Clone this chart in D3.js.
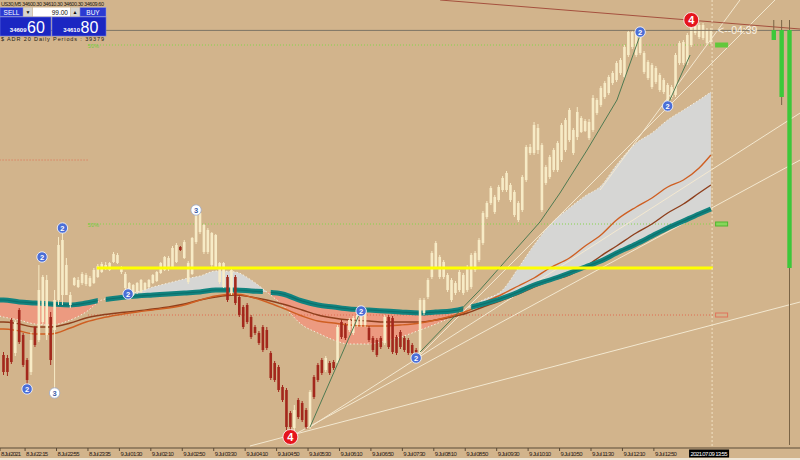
<!DOCTYPE html>
<html>
<head>
<meta charset="utf-8">
<script src="https://cdn.jsdelivr.net/npm/d3@7"></script>
<style>
body { margin: 0; background: #d2b48c; }
svg { display: block; font-family: "Liberation Sans", Arial, sans-serif; }
</style>
</head>
<body>
<svg id="chart"></svg>
<script>
// US30, M5 candles (index 0 = 8 Jul 21:45), prices
const opens = [34285,34282,34320,34287,34330,34305,34280,34268,34313,34300,
34318,34305,34323,34310,34340,34345,34345,34335,34355,34353,
34357,34356,34354,34357,34363,34368,34372,34370,34378,34377,
34368,34352,34348,34345,34348,34348,34350,34353,34357,34359,
34367,34370,34371,34373,34378,34393,34382,34358,34366,34398,
34408,34388,34388,34375,34373,34358,34353,34363,34347,34363,
34343,34333,34335,34323,34313,34307,34313,34310,34287,34277,
34273,34253,34250,34227,34212,34240,34237,34230,34213,34263,
34275,34280,34270,34277,34278,34277,34318,34315,34310,34307,
34315,34315,34315,34312,34302,34300,34302,34297,34323,34322,
34303,34308,34302,34300,34295,34290,34287,34327,34343,34363,
34373,34363,34363,34350,34340,34347,34350,34347,34350,34353,
34370,34380,34397,34423,34437,34428,34440,34450,34450,34440,
34425,34420,34430,34460,34487,34487,34490,34430,34457,34463,
34470,34470,34480,34490,34500,34487,34503,34508,34509,34502,
34510,34527,34535,34543,34547,34557,34560,34567,34563,34585,
34593,34585,34587,34568,34562,34553,34558,34550,34548,34540,
34543,34545,34577,34577,34577,34595,34607,34603,34602,34597,
34598];
const highs = [34288,34285,34322,34320,34332,34307,34282,34308,34314,34375,
34365,34365,34328,34350,34403,34408,34382,34348,34363,34363,
34368,34367,34364,34372,34376,34378,34378,34378,34388,34387,
34374,34368,34358,34356,34358,34361,34358,34361,34366,34369,
34378,34384,34384,34394,34397,34394,34400,34379,34403,34428,
34428,34416,34412,34408,34406,34378,34378,34365,34372,34365,
34345,34335,34337,34325,34315,34309,34315,34313,34289,34279,
34275,34255,34252,34229,34235,34242,34239,34232,34250,34265,
34277,34282,34284,34279,34280,34315,34320,34317,34322,34324,
34328,34334,34332,34314,34304,34302,34304,34325,34325,34324,
34305,34310,34304,34302,34297,34292,34342,34342,34362,34389,
34399,34385,34380,34367,34362,34359,34370,34367,34375,34387,
34389,34402,34429,34439,34454,34445,34455,34464,34469,34457,
34450,34439,34465,34495,34496,34518,34516,34497,34475,34485,
34492,34499,34517,34522,34532,34512,34533,34524,34521,34521,
34545,34542,34554,34559,34565,34569,34579,34582,34595,34610,
34610,34609,34612,34589,34580,34577,34574,34567,34562,34557,
34555,34587,34599,34600,34607,34615,34617,34617,34617,34612,
34612];
const lows = [34265,34264,34276,34284,34296,34273,34255,34265,34293,34298,
34315,34300,34275,34252,34335,34335,34345,34332,34354,34352,
34355,34354,34353,34356,34362,34367,34370,34369,34377,34376,
34366,34350,34346,34344,34346,34347,34349,34352,34356,34358,
34366,34369,34369,34372,34377,34389,34381,34356,34365,34396,
34406,34386,34386,34373,34372,34356,34352,34338,34345,34335,
34323,34311,34316,34301,34305,34295,34288,34290,34260,34258,
34248,34238,34210,34205,34208,34221,34218,34211,34211,34241,
34258,34265,34268,34265,34270,34275,34301,34300,34308,34305,
34313,34313,34313,34298,34288,34283,34291,34295,34291,34286,
34285,34291,34288,34285,34285,34283,34285,34325,34341,34361,
34371,34361,34361,34348,34338,34345,34348,34345,34348,34351,
34368,34378,34395,34421,34435,34426,34438,34448,34448,34438,
34423,34418,34428,34458,34485,34485,34486,34428,34455,34461,
34468,34468,34478,34488,34498,34485,34500,34507,34508,34500,
34508,34525,34533,34541,34545,34555,34558,34565,34561,34583,
34591,34583,34585,34566,34560,34551,34556,34548,34546,34538,
34541,34543,34575,34575,34575,34593,34605,34601,34600,34595,
34596];
const closes = [34268,34268,34278,34318,34298,34275,34260,34300,34295,34350,
34363,34360,34280,34340,34395,34400,34375,34345,34362,34360,
34366,34365,34362,34370,34374,34376,34375,34377,34386,34385,
34372,34366,34357,34355,34357,34360,34357,34360,34365,34368,
34377,34383,34382,34392,34395,34390,34398,34377,34402,34425,
34427,34415,34410,34407,34405,34377,34377,34340,34370,34337,
34325,34313,34318,34303,34307,34297,34290,34292,34262,34260,
34250,34240,34213,34213,34230,34223,34220,34213,34248,34243,
34260,34267,34282,34267,34272,34313,34303,34302,34320,34322,
34325,34333,34330,34300,34290,34285,34293,34323,34293,34288,
34287,34293,34290,34287,34287,34285,34340,34340,34360,34387,
34397,34383,34378,34365,34360,34357,34368,34365,34373,34385,
34387,34400,34427,34437,34452,34443,34453,34462,34467,34455,
34448,34437,34463,34493,34493,34515,34512,34495,34473,34483,
34490,34497,34515,34520,34530,34510,34528,34522,34519,34518,
34542,34540,34552,34557,34563,34567,34577,34580,34593,34608,
34608,34607,34610,34587,34578,34575,34572,34565,34560,34555,
34553,34585,34597,34598,34605,34613,34615,34615,34615,34610,
34610];

// indicator lines, sampled at these candle indices
const gridIdx = [-1,0,4,8,12,17,21,25,29,34,38,42,46,50,54,59,63,67,71,76,80,84,88,93,97,101,106,110,114,118,122,127,131,135,139,144,148,152,156,161,165,169,173,177,180];
const tealMA = [34340,34340,34338,34337,34336,34335,34337,34340,34342,34344,34345,34346,34347,34348,34350,34350,34349,34348,34346,34339,34335,34333,34331,34330,34329,34328,34327,34328,34329,34332,34336,34342,34348,34355,34360,34367,34373,34379,34387,34396,34404,34412,34419,34426,34431];
const cloudEdge = [34324,34323,34320,34316,34315,34320,34328,34340,34343,34348,34353,34357,34361,34364,34369,34368,34360,34348,34335,34315,34307,34300,34296,34296,34299,34303,34310,34316,34323,34332,34340,34350,34372,34395,34415,34432,34444,34454,34475,34497,34507,34520,34530,34540,34548];
const fastMA = [34311,34311,34309,34306,34306,34312,34318,34322,34325,34328,34330,34332,34335,34340,34344,34346,34343,34338,34332,34324,34319,34317,34315,34314,34314,34315,34317,34320,34324,34329,34337,34346,34354,34362,34372,34382,34394,34405,34420,34433,34442,34453,34460,34472,34485];
const slowMA = [34318,34318,34316,34313,34313,34317,34322,34325,34327,34329,34331,34333,34336,34340,34343,34345,34343,34340,34336,34330,34325,34322,34320,34319,34318,34318,34318,34320,34323,34327,34333,34340,34346,34353,34359,34365,34373,34384,34394,34407,34416,34427,34436,34447,34455];
const tealGapIdx = [25, 67, 118];

// trend lines: [idx1, price1, idx2, price2]
const creamLines = [
  [62.7, 34194, 202.7, 34338],
  [78.0, 34213, 202.7, 34527],
  [72.9, 34203, 202.7, 34480],
  [105.2, 34282, 196.3, 34640],
  [151.8, 34450, 187.4, 34640]
];
const redTrend = [111.1, 34640, 202.7, 34611];
const greenWaves = [
  [[78, 34213], [91, 34330]],
  [[106, 34288], [121.2, 34350], [136.5, 34418], [141.6, 34447], [148.5, 34490], [156.1, 34540], [162, 34605]],
  [[169.1, 34536], [174.7, 34585]]
];

// horizontal levels
const yellowLevel = 34372, yellowFrom = 24;
const greenLevels = [34595, 34416];
const redLevels = [34480, 34325];
const redLevelFrom = [-1, 21.5], redLevelTo = [21.5, 180.5];
const levelFrom = 21.5;
const bidPrice = 34609.6;

// numbered swing markers
const markerIdx = [6, 9.8, 15, 31.7, 91, 105, 162, 169, 13, 49, 73, 175];
const markerPrice = [34251, 34383, 34412, 34346, 34329, 34282, 34608, 34534, 34247, 34430, 34203, 34620];
const markerLabel = ['2','2','2','2','2','2','2','2','3','3','4','4'];

// green histogram at right edge
const barIdx = [196, 198, 200];
const barTop = 34610;
const barBottom = [34600, 34543, 34372];
const barWickBottom = [34600, 34535, 34195];

// time axis
const tickIdx = [-1,6,14,22,30,38,46,54,62,70,78,86,94,102,110,118,126,134,142,150,158,166];
const tickLabels = ['8 Jul 2021','8 Jul 22:15','8 Jul 22:55','8 Jul 23:35','9 Jul 01:30','9 Jul 02:10','9 Jul 02:50','9 Jul 03:30','9 Jul 04:10','9 Jul 04:50','9 Jul 05:30','9 Jul 06:10','9 Jul 06:50','9 Jul 07:30','9 Jul 08:10','9 Jul 08:50','9 Jul 09:30','9 Jul 10:10','9 Jul 10:50','9 Jul 11:30','9 Jul 12:10','9 Jul 12:50'];
const currentTime = '2021.07.09 13:55';
const currentIdx = 180.3;

const W = 800, H = 460, AXIS_Y = 448;
const BG = '#d2b48c', CREAM = '#f7ebc6', BEAR = '#a3281c';

const svg = d3.select('#chart').attr('width', W).attr('height', H);
const x = d3.scaleLinear().domain([0, 180]).range([3.5, 710.9]);
const y = d3.scaleLinear().domain([34200, 34640]).range([440, 0]);

svg.append('rect').attr('width', W).attr('height', H).attr('fill', BG);

const defs = svg.append('defs');
defs.append('clipPath').attr('id', 'plot').append('rect')
  .attr('x', 0).attr('y', 0).attr('width', W).attr('height', AXIS_Y);

// teal line is broken where the cloud flips colour
const tealClip = defs.append('clipPath').attr('id', 'tealclip');
let cx = -10;
tealGapIdx.concat([400]).forEach(g => {
  const gx = g < 400 ? x(g) - 4 : W + 10;
  tealClip.append('rect').attr('x', cx).attr('y', 0).attr('width', gx - cx).attr('height', AXIS_Y);
  cx = x(g) + 4;
});

const plot = svg.append('g').attr('clip-path', 'url(#plot)');

// cloud between teal MA and its edge
const segs = [];
let seg = [0];
for (let k = 1; k < gridIdx.length; k++) {
  seg.push(k);
  if (Math.abs(cloudEdge[k] - tealMA[k]) < 0.5 && k < gridIdx.length - 1) { segs.push(seg); seg = [k]; }
}
segs.push(seg);

const area = d3.area()
  .x(k => x(gridIdx[k]))
  .y0(k => y(tealMA[k]))
  .y1(k => y(cloudEdge[k]))
  .curve(d3.curveMonotoneX);

plot.selectAll('path.cloud')
  .data(segs)
  .join('path')
  .attr('class', 'cloud')
  .attr('d', area)
  .attr('fill', s => {
    const m = s[Math.floor(s.length / 2)];
    return cloudEdge[m] > tealMA[m] ? '#d6d6d4' : '#ec9a80';
  });

const gridLine = vals => d3.line()
  .x(k => x(gridIdx[k]))
  .y(k => y(vals[k]))
  .curve(d3.curveMonotoneX)(d3.range(gridIdx.length));

// horizontal dotted levels
greenLevels.forEach(p => {
  plot.append('line').attr('x1', x(levelFrom)).attr('x2', x(180.5))
    .attr('y1', y(p)).attr('y2', y(p))
    .attr('stroke', '#84d44c').attr('stroke-width', 1).attr('stroke-dasharray', '1,2');
  plot.append('text').attr('x', x(levelFrom)).attr('y', y(p) + 2.5)
    .attr('font-size', 5).attr('fill', '#6ccb3c').attr('textLength', 11).text('50%');
});
redLevels.forEach((p, i) => {
  plot.append('line').attr('x1', x(redLevelFrom[i])).attr('x2', x(redLevelTo[i]))
    .attr('y1', y(p)).attr('y2', y(p))
    .attr('stroke', '#e06a50').attr('stroke-width', 1).attr('stroke-dasharray', '1,2');
});

// cloud edge dotted
plot.append('path').attr('d', gridLine(cloudEdge))
  .attr('fill', 'none').attr('stroke', '#f6eedc').attr('stroke-width', 1).attr('stroke-dasharray', '1.5,2');

// fan lines
plot.selectAll('line.fan')
  .data(creamLines)
  .join('line')
  .attr('class', 'fan')
  .attr('x1', d => x(d[0])).attr('y1', d => y(d[1]))
  .attr('x2', d => x(d[2])).attr('y2', d => y(d[3]))
  .attr('stroke', '#f3e8d0').attr('stroke-width', 1);

plot.append('line')
  .attr('x1', x(redTrend[0])).attr('y1', y(redTrend[1]))
  .attr('x2', x(redTrend[2])).attr('y2', y(redTrend[3]))
  .attr('stroke', '#a5503e').attr('stroke-width', 1);

// moving averages
plot.append('path').attr('d', gridLine(slowMA))
  .attr('fill', 'none').attr('stroke', '#8e3f1c').attr('stroke-width', 1.4);
plot.append('path').attr('d', gridLine(fastMA))
  .attr('fill', 'none').attr('stroke', '#cf5f22').attr('stroke-width', 1.4);
const tealG = plot.append('g').attr('clip-path', 'url(#tealclip)');
tealG.append('path').attr('d', gridLine(tealMA))
  .attr('fill', 'none').attr('stroke', '#12837f').attr('stroke-width', 5);
tealG.append('path').attr('d', gridLine(tealMA))
  .attr('fill', 'none').attr('stroke', '#0c6f6b').attr('stroke-width', 1.2);

// candles
const candles = d3.range(opens.length);
const col = i => closes[i] >= opens[i] ? CREAM : BEAR;
plot.selectAll('line.wick')
  .data(candles)
  .join('line')
  .attr('class', 'wick')
  .attr('x1', i => x(i)).attr('x2', i => x(i))
  .attr('y1', i => y(highs[i])).attr('y2', i => y(lows[i]))
  .attr('stroke', col).attr('stroke-width', 1);
plot.selectAll('rect.body')
  .data(candles)
  .join('rect')
  .attr('class', 'body')
  .attr('x', i => x(i) - 1.3)
  .attr('width', 2.6)
  .attr('y', i => y(Math.max(opens[i], closes[i])))
  .attr('height', i => Math.max(1, Math.abs(y(opens[i]) - y(closes[i]))))
  .attr('fill', col);

// zigzag wave lines
const waveLine = d3.line().x(d => x(d[0])).y(d => y(d[1]));
plot.selectAll('path.wave')
  .data(greenWaves)
  .join('path')
  .attr('class', 'wave')
  .attr('d', waveLine)
  .attr('fill', 'none').attr('stroke', '#4f7a52').attr('stroke-width', 1);

// yellow level
plot.append('line').attr('x1', x(yellowFrom) - 1).attr('x2', x(180.5))
  .attr('y1', y(yellowLevel)).attr('y2', y(yellowLevel))
  .attr('stroke', '#ffff00').attr('stroke-width', 3);

// bid line and current bar line
plot.append('line').attr('x1', 0).attr('x2', W)
  .attr('y1', y(bidPrice)).attr('y2', y(bidPrice))
  .attr('stroke', '#7d7565').attr('stroke-width', 1);
plot.append('line').attr('x1', x(currentIdx)).attr('x2', x(currentIdx))
  .attr('y1', 0).attr('y2', AXIS_Y)
  .attr('stroke', '#f1e3c4').attr('stroke-width', 1).attr('stroke-dasharray', '2,2');

// level tags at right
[[greenLevels[0], '#62c83c', '#62c83c'], [greenLevels[1], '#86d65a', '#4fb52e'], [redLevels[1], 'none', '#e0735a']]
  .forEach(t => {
    plot.append('rect').attr('x', x(181.2)).attr('y', y(t[0]) - 2)
      .attr('width', 12).attr('height', 4)
      .attr('fill', t[1]).attr('stroke', t[2]).attr('stroke-width', 1);
  });

// green bars
barIdx.forEach((b, i) => {
  plot.append('line').attr('x1', x(b)).attr('x2', x(b))
    .attr('y1', y(barTop) - 10).attr('y2', y(barWickBottom[i]))
    .attr('stroke', '#7a6446').attr('stroke-width', 1);
  plot.append('rect').attr('x', x(b) - 2.2).attr('width', 4.4)
    .attr('y', y(barTop)).attr('height', y(barBottom[i]) - y(barTop))
    .attr('fill', '#3cc83a');
});

// countdown
plot.append('text').attr('x', 718).attr('y', y(bidPrice) + 4)
  .attr('font-size', 10.5).attr('fill', '#f8f1e2').text('<--04:39');

// markers
const mk = plot.selectAll('g.marker')
  .data(d3.range(markerIdx.length))
  .join('g')
  .attr('class', 'marker')
  .attr('transform', i => `translate(${x(markerIdx[i])},${y(markerPrice[i])})`);
mk.append('circle')
  .attr('r', i => markerLabel[i] === '4' ? 7.5 : 5.2)
  .attr('fill', i => markerLabel[i] === '4' ? '#e5141c' : markerLabel[i] === '3' ? '#ffffff' : '#4b6ed6')
  .attr('stroke', i => markerLabel[i] === '3' ? '#9aa8c8' : '#ffffff')
  .attr('stroke-width', 0.8);
mk.append('text')
  .attr('text-anchor', 'middle')
  .attr('dy', i => markerLabel[i] === '4' ? 4 : 2.6)
  .attr('font-size', i => markerLabel[i] === '4' ? 11 : 7.5)
  .attr('font-weight', 'bold')
  .attr('fill', i => markerLabel[i] === '3' ? '#4060a8' : '#ffffff')
  .text(i => markerLabel[i]);

// time axis
svg.append('line').attr('x1', 0).attr('x2', W).attr('y1', AXIS_Y).attr('y2', AXIS_Y)
  .attr('stroke', '#5b4a36').attr('stroke-width', 1);
const ax = svg.append('g');
tickIdx.forEach((t, i) => {
  const tx = Math.max(0, x(t) - 2);
  ax.append('line').attr('x1', tx).attr('x2', tx).attr('y1', AXIS_Y).attr('y2', AXIS_Y + 3)
    .attr('stroke', '#5b4a36');
  ax.append('text').attr('x', tx + 1).attr('y', 455.5)
    .attr('font-size', 6).attr('fill', '#2a2018').attr('textLength', i === 0 ? 20 : 22).text(tickLabels[i]);
});
ax.append('rect').attr('x', x(currentIdx) - 23).attr('y', 449.5).attr('width', 40).attr('height', 8).attr('fill', '#000');
ax.append('text').attr('x', x(currentIdx) - 21.5).attr('y', 455.5)
  .attr('font-size', 6).attr('fill', '#fff').attr('textLength', 37).text(currentTime);
svg.append('line').attr('x1', 0).attr('x2', W).attr('y1', 459).attr('y2', 459)
  .attr('stroke', '#efe6d6').attr('stroke-width', 2);

// one-click trading panel
const panel = svg.append('g');
panel.append('text').attr('x', 1).attr('y', 5.5).attr('font-size', 5.5).attr('fill', '#1e1a14')
  .attr('textLength', 103).text('US30,M5  34600.30 34610.30 34600.30 34609.60');
panel.append('rect').attr('x', 0).attr('y', 7.5).attr('width', 23).attr('height', 9).attr('fill', '#2c3ad2').attr('stroke', '#8f9ae8').attr('stroke-width', 0.5);
panel.append('text').attr('x', 11.5).attr('y', 14.5).attr('text-anchor', 'middle').attr('font-size', 6.5).attr('fill', '#fff').text('SELL');
panel.append('rect').attr('x', 23.5).attr('y', 7.5).attr('width', 9).attr('height', 9).attr('fill', '#d8d6d0');
panel.append('text').attr('x', 28).attr('y', 14).attr('text-anchor', 'middle').attr('font-size', 5).attr('fill', '#111').text('▼');
panel.append('rect').attr('x', 33).attr('y', 7.5).attr('width', 37).attr('height', 9).attr('fill', '#ffffff');
panel.append('text').attr('x', 68).attr('y', 14.5).attr('text-anchor', 'end').attr('font-size', 6.5).attr('fill', '#111').text('99.00');
panel.append('rect').attr('x', 70.5).attr('y', 7.5).attr('width', 9).attr('height', 9).attr('fill', '#d8d6d0');
panel.append('text').attr('x', 75).attr('y', 14).attr('text-anchor', 'middle').attr('font-size', 5).attr('fill', '#111').text('▲');
panel.append('rect').attr('x', 80).attr('y', 7.5).attr('width', 26).attr('height', 9).attr('fill', '#2c3ad2').attr('stroke', '#8f9ae8').attr('stroke-width', 0.5);
panel.append('text').attr('x', 93).attr('y', 14.5).attr('text-anchor', 'middle').attr('font-size', 6.5).attr('fill', '#fff').text('BUY');
[[0, 51, '34609', '60'], [52, 54, '34610', '80']].forEach(b => {
  panel.append('rect').attr('x', b[0]).attr('y', 17).attr('width', b[1]).attr('height', 19)
    .attr('fill', '#1b26c2').attr('stroke', '#6d7be6').attr('stroke-width', 0.6);
  panel.append('text').attr('x', b[0] + b[1] / 2 + 1).attr('y', 32).attr('text-anchor', 'end')
    .attr('font-size', 6).attr('font-weight', 'bold').attr('fill', '#fff').text(b[2]);
  panel.append('text').attr('x', b[0] + b[1] / 2 + 1.5).attr('y', 33).attr('font-size', 16)
    .attr('fill', '#fff').text(b[3]);
});
panel.append('text').attr('x', 1).attr('y', 40.5).attr('font-size', 5.5).attr('fill', '#1e1a14')
  .attr('textLength', 103).text('$ ADR 20 Daily Periods : 39379');
</script>
</body>
</html>
